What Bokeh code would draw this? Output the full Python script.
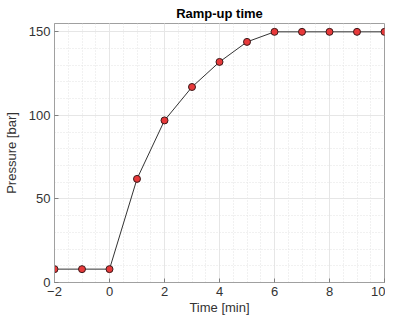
from bokeh.plotting import figure
from bokeh.embed import file_html
from bokeh.resources import INLINE
from bokeh.models import Range1d, FixedTicker

time_min = [-2, -1, 0, 1, 2, 3, 4, 5, 6, 7, 8, 9, 10]
pressure_bar = [8, 8, 8, 62, 97, 117, 132, 144, 150, 150, 150, 150, 150]
x_ticks = [-2, 0, 2, 4, 6, 8, 10]
y_ticks = [0, 50, 100, 150]

FONT = "Liberation Sans"
p = figure(width=385, height=317, output_backend="svg", toolbar_location=None,
           x_range=Range1d(-2, 10), y_range=Range1d(0, 155),
           title="Ramp-up time",
           min_border_left=47, min_border_right=1, min_border_top=21, min_border_bottom=34)
p.title.align = "center"
p.title.text_font = FONT
p.title.text_font_size = "13px"
p.title.text_font_style = "bold"
p.title.text_color = "#000000"
p.title.offset = 0
p.title.standoff = 6

p.line(time_min, pressure_bar, line_color="#333333", line_width=1)
p.scatter(time_min, pressure_bar, size=7, fill_color="#e8393a", line_color="#3a1a1a", line_width=1)

for ax in (p.xaxis[0], p.yaxis[0]):
    ax.major_tick_in = 4
    ax.major_tick_out = 0
    ax.minor_tick_in = 0
    ax.minor_tick_out = 0
    ax.axis_line_color = "#a0a0a0"
    ax.major_tick_line_color = "#808080"
    ax.major_label_text_font = FONT
    ax.major_label_text_font_size = "13px"
    ax.major_label_text_color = "#333333"
    ax.major_label_standoff = 4
    ax.axis_label_text_font = FONT
    ax.axis_label_text_font_size = "13px"
    ax.axis_label_text_font_style = "normal"
    ax.axis_label_text_color = "#333333"

p.xaxis[0].ticker = FixedTicker(ticks=x_ticks, minor_ticks=[v / 2 for v in range(-4, 21)])
p.yaxis[0].ticker = FixedTicker(ticks=y_ticks, minor_ticks=list(range(0, 156, 10)))
p.xaxis[0].axis_label = "Time [min]"
p.yaxis[0].axis_label = "Pressure [bar]"
p.xaxis[0].axis_label_standoff = 1
p.yaxis[0].axis_label_standoff = 7

p.xgrid.grid_line_color = "#e6e6e6"
p.ygrid.grid_line_color = "#e6e6e6"
p.xgrid.minor_grid_line_color = "#e3e3e3"
p.ygrid.minor_grid_line_color = "#e3e3e3"
p.xgrid.minor_grid_line_dash = "1 2"
p.ygrid.minor_grid_line_dash = "1 2"
p.outline_line_color = "#a0a0a0"
p.background_fill_color = "#ffffff"
p.border_fill_color = "#ffffff"

open("out.html", "w").write(file_html(p, INLINE))
